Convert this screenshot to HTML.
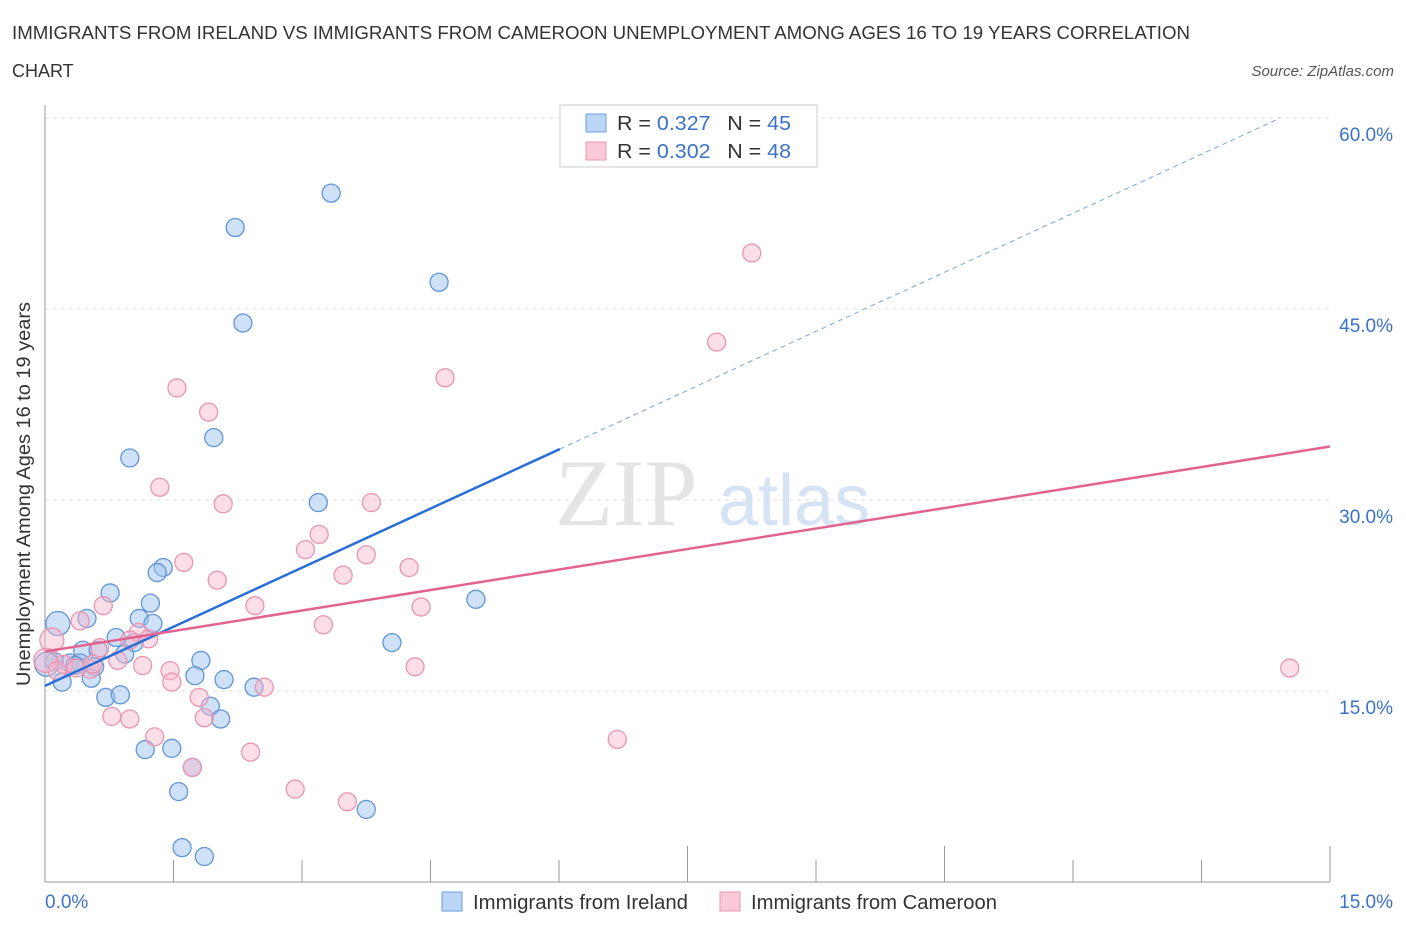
<!DOCTYPE html>
<html><head><meta charset="utf-8"><style>
body{margin:0;background:#fff;font-family:"Liberation Sans",sans-serif;}
</style></head><body>
<svg width="1406" height="930" viewBox="0 0 1406 930" font-family="Liberation Sans, sans-serif">
<text x="12" y="39" font-size="18" fill="#333" textLength="1178" lengthAdjust="spacingAndGlyphs">IMMIGRANTS FROM IRELAND VS IMMIGRANTS FROM CAMEROON UNEMPLOYMENT AMONG AGES 16 TO 19 YEARS CORRELATION</text>
<text x="12" y="77" font-size="18" fill="#333">CHART</text>
<text x="1394" y="76" font-size="15" fill="#555" text-anchor="end" font-style="italic">Source: ZipAtlas.com</text>
<g id="grid"></g>
<text x="555" y="525" font-size="95" fill="#e4e4e4" font-family="Liberation Serif, serif">ZIP</text>
<text x="718" y="525" font-size="72" fill="#d5e3f5">atlas</text>
<g id="axes"></g>
<g id="pts"></g>
<g id="lines"></g>
<text x="30" y="494" font-size="19" fill="#333" text-anchor="middle" transform="rotate(-90 30 494)" textLength="384" lengthAdjust="spacingAndGlyphs">Unemployment Among Ages 16 to 19 years</text>
<text x="45" y="908" font-size="19" fill="#3b73c9">0.0%</text>
<text x="1393" y="908" font-size="19" fill="#3b73c9" text-anchor="end">15.0%</text>
<g>
<rect x="560" y="105" width="257" height="62" fill="#fff" stroke="#ccc"/>
<rect x="586" y="114" width="20" height="18" fill="#bcd4f5" stroke="#6a9ee0"/>
<rect x="586" y="142" width="20" height="18" fill="#f9c9d7" stroke="#e996b0"/>
<text x="617" y="130" font-size="20" fill="#333" textLength="174" lengthAdjust="spacingAndGlyphs">R = <tspan fill="#3b73c9">0.327</tspan>  <tspan dx="10">N = </tspan><tspan fill="#3b73c9">45</tspan></text>
<text x="617" y="158" font-size="20" fill="#333" textLength="174" lengthAdjust="spacingAndGlyphs">R = <tspan fill="#3b73c9">0.302</tspan>  <tspan dx="10">N = </tspan><tspan fill="#3b73c9">48</tspan></text>
</g>
<g>
<rect x="442" y="892" width="20" height="19" fill="#bcd4f5" stroke="#6a9ee0"/>
<text x="473" y="909" font-size="20" fill="#333" textLength="215" lengthAdjust="spacingAndGlyphs">Immigrants from Ireland</text>
<rect x="720" y="892" width="20" height="19" fill="#f9c9d7" stroke="#e996b0"/>
<text x="751" y="909" font-size="20" fill="#333" textLength="246" lengthAdjust="spacingAndGlyphs">Immigrants from Cameroon</text>
</g>
</svg>
<script>
const yTicks=[15,30,45,60];
const yTickLabels=["15.0%","30.0%","45.0%","60.0%"];
const xTicks=[0,1.5,3,4.5,6,7.5,9,10.5,12,13.5,15];
const blueX=[3.34,2.22,4.60,2.31,1.97,0.99,3.19,1.38,1.31,0.76,1.23,0.49,1.10,1.26,0.15,0.83,1.04,0.44,0.62,0.11,0.29,0.41,0.58,0.93,1.82,1.75,2.09,0.54,0.20,2.44,0.71,0.88,1.93,2.05,1.17,1.48,1.72,1.56,3.75,1.60,1.86,5.03,4.05,0.02,0.35];
const blueY=[54.1,51.4,47.1,43.9,34.9,33.3,29.8,24.7,24.3,22.7,21.9,20.7,20.7,20.3,20.3,19.2,18.8,18.2,18.2,17.3,17.2,17.2,16.9,17.9,17.4,16.2,15.9,16.0,15.7,15.3,14.5,14.7,13.8,12.8,10.4,10.5,9.0,7.1,5.7,2.7,2.0,22.2,18.8,17.1,17.0];
const blueBig=[14,43];
const pinkX=[8.25,7.84,4.67,1.54,1.91,1.34,2.08,3.81,3.20,3.04,3.75,1.62,3.48,4.25,2.01,0.68,2.45,4.39,0.41,3.25,1.09,1.21,0.08,0.64,0.85,1.14,1.46,4.32,0.22,0.53,1.48,1.80,2.56,0.78,0.99,1.86,1.28,2.40,1.72,2.92,3.53,6.68,14.53,0.01,0.36,0.99,0.56,0.14];
const pinkY=[49.4,42.4,39.6,38.8,36.9,31.0,29.7,29.8,27.3,26.1,25.7,25.1,24.1,24.7,23.7,21.7,21.7,21.6,20.5,20.2,19.6,19.1,19.0,18.4,17.4,17.0,16.6,16.9,17.1,16.7,15.7,14.5,15.3,13.0,12.8,12.9,11.4,10.2,9.0,7.3,6.3,11.2,16.8,17.4,16.8,19.0,17.1,16.6];
const pinkBig=[22,43];
const blueTrend=[0,15.4,6.01,34.0,14.42,60.0];
const pinkTrend=[0,18.1,15,34.2];
const NS='http://www.w3.org/2000/svg';
const X=v=>45+v/15*1285, Y=v=>882-v/15*191;
function mk(t,a,p){const e=document.createElementNS(NS,t);for(const k in a)e.setAttribute(k,a[k]);p.appendChild(e);return e;}
const grid=document.getElementById('grid'),axes=document.getElementById('axes'),pts=document.getElementById('pts'),lines=document.getElementById('lines');
yTicks.forEach((t,i)=>{
 const l=mk('line',{x1:45,x2:1330,y1:Y(t),y2:Y(t),stroke:'#ddd','stroke-dasharray':'4 4'},grid);
 
 
 const tx=mk('text',{x:1393,y:Y(t)+23,'font-size':19,fill:'#3b73c9','text-anchor':'end'},axes);
 tx.textContent=yTickLabels[i];
 
 
});
const ya=mk('line',{x1:45,x2:45,y1:105,y2:882,stroke:'#999'},axes);


const xa=mk('line',{x1:45,x2:1330,y1:882,y2:882,stroke:'#999'},axes);


xTicks.forEach((t,i)=>{
 const long=(i==5||i==7||i==10);
 const l=mk('line',{x1:X(t),x2:X(t),y1:882,y2:long?846:860,stroke:'#999'},axes);
 
 
});
function dots(xs,ys,big,fill,stroke,name){
 xs.forEach((x,i)=>{
  const c=mk('circle',{cx:X(x),cy:Y(ys[i]),r:big.includes(i)?12:9,fill:fill,stroke:stroke,'stroke-width':1.3},pts);
  
  
 });
}
dots(blueX,blueY,blueBig,'rgba(160,195,240,0.5)','#5f95d9','ireland-point');
dots(pinkX,pinkY,pinkBig,'rgba(247,182,202,0.45)','#e995b0','cameroon-point');
const b1=mk('line',{x1:X(blueTrend[0]),y1:Y(blueTrend[1]),x2:X(blueTrend[2]),y2:Y(blueTrend[3]),stroke:'#2a6fd6','stroke-width':2.5},lines);


const b2=mk('line',{x1:X(blueTrend[2]),y1:Y(blueTrend[3]),x2:X(blueTrend[4]),y2:Y(blueTrend[5]),stroke:'#7aa5e0','stroke-width':1,'stroke-dasharray':'5 4'},lines);


const p1=mk('line',{x1:X(pinkTrend[0]),y1:Y(pinkTrend[1]),x2:X(pinkTrend[2]),y2:Y(pinkTrend[3]),stroke:'#e2648e','stroke-width':2.5},lines);


</script>
</body></html>
